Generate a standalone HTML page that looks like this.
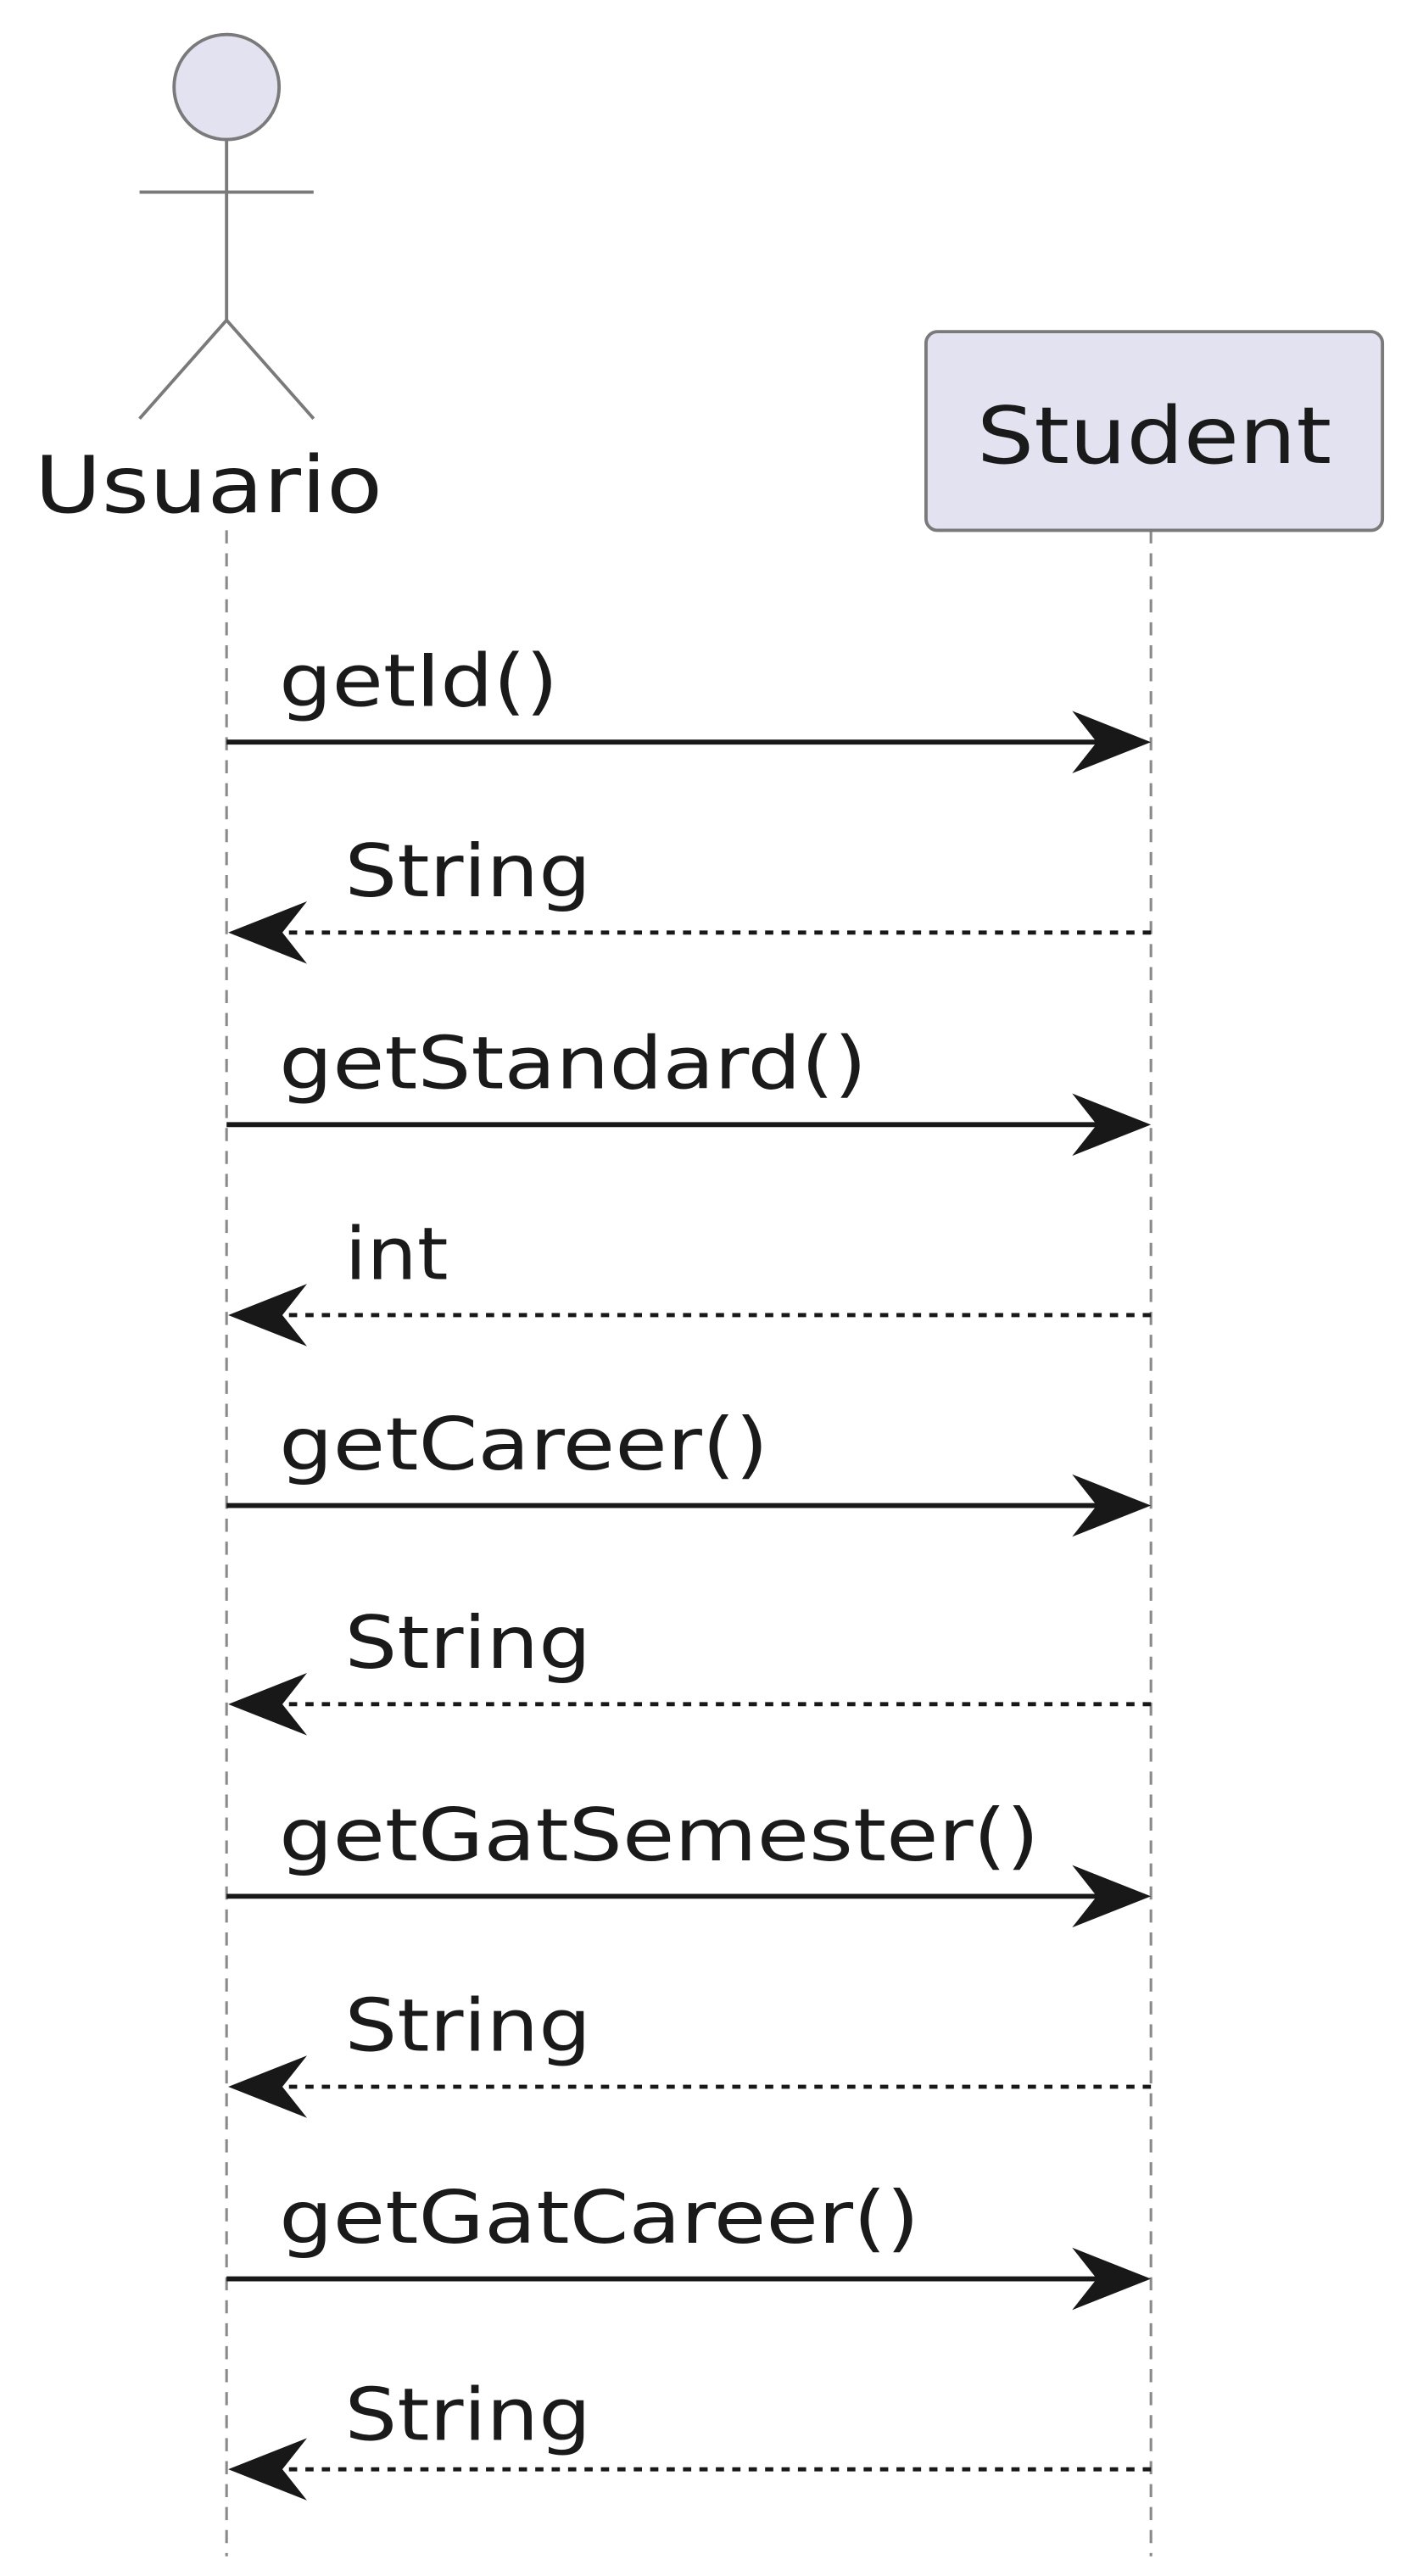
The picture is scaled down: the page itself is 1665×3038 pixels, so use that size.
<!DOCTYPE html>
<html><head><meta charset="utf-8"><style>html,body{margin:0;padding:0;background:#fff}svg{display:block}</style></head>
<body>
<svg width="1665" height="3038" viewBox="0 0 860 1569" preserveAspectRatio="none" xmlns="http://www.w3.org/2000/svg" font-family="'DejaVu Sans','Liberation Sans',sans-serif">
<rect width="860" height="1569" fill="#fff"/>
<g stroke="#8a8a8a" stroke-width="1.6" stroke-dasharray="8,6" fill="none">
<line x1="138" y1="323" x2="138" y2="1557"/>
<line x1="701" y1="323" x2="701" y2="1557"/>
</g>
<circle cx="138" cy="53" r="32" fill="#e2e2f0" stroke="#7a7a7a" stroke-width="2"/>
<g stroke="#7a7a7a" stroke-width="2" fill="none">
<line x1="138" y1="85" x2="138" y2="195"/>
<line x1="85" y1="117" x2="191" y2="117"/>
<polyline points="85,255 138,195 191,255"/>
</g>
<text x="127" y="312" font-size="48" text-anchor="middle" fill="#1a1a1a" textLength="212" lengthAdjust="spacingAndGlyphs">Usuario</text>
<rect x="564" y="202" width="278" height="121" rx="7" fill="#e2e2f0" stroke="#7a7a7a" stroke-width="2"/>
<text x="703" y="282" font-size="48" text-anchor="middle" fill="#1a1a1a" textLength="216" lengthAdjust="spacingAndGlyphs">Student</text>
<g font-size="44" fill="#1a1a1a">
<text x="170" y="430" textLength="170" lengthAdjust="spacingAndGlyphs">getId()</text>
<text x="210" y="546" textLength="150" lengthAdjust="spacingAndGlyphs">String</text>
<text x="170" y="663" textLength="358" lengthAdjust="spacingAndGlyphs">getStandard()</text>
<text x="210" y="779" textLength="63" lengthAdjust="spacingAndGlyphs">int</text>
<text x="170" y="895" textLength="298" lengthAdjust="spacingAndGlyphs">getCareer()</text>
<text x="210" y="1016" textLength="150" lengthAdjust="spacingAndGlyphs">String</text>
<text x="170" y="1133" textLength="463" lengthAdjust="spacingAndGlyphs">getGatSemester()</text>
<text x="210" y="1249" textLength="150" lengthAdjust="spacingAndGlyphs">String</text>
<text x="170" y="1366" textLength="390" lengthAdjust="spacingAndGlyphs">getGatCareer()</text>
<text x="210" y="1486" textLength="150" lengthAdjust="spacingAndGlyphs">String</text>
</g>
<g stroke="#181818" stroke-width="3">
<line x1="138" y1="452" x2="695" y2="452"/>
<line x1="138" y1="685" x2="695" y2="685"/>
<line x1="138" y1="917" x2="695" y2="917"/>
<line x1="138" y1="1155" x2="695" y2="1155"/>
<line x1="138" y1="1388" x2="695" y2="1388"/>
</g>
<g stroke="#181818" stroke-width="2.5" stroke-dasharray="5,5">
<line x1="146" y1="568" x2="701" y2="568"/>
<line x1="146" y1="801" x2="701" y2="801"/>
<line x1="146" y1="1038" x2="701" y2="1038"/>
<line x1="146" y1="1271" x2="701" y2="1271"/>
<line x1="146" y1="1504" x2="701" y2="1504"/>
</g>
<g fill="#181818">
<polygon points="701,452 653,433 668,452 653,471"/>
<polygon points="701,685 653,666 668,685 653,704"/>
<polygon points="701,917 653,898 668,917 653,936"/>
<polygon points="701,1155 653,1136 668,1155 653,1174"/>
<polygon points="701,1388 653,1369 668,1388 653,1407"/>
<polygon points="139,568 187,549 172,568 187,587"/>
<polygon points="139,801 187,782 172,801 187,820"/>
<polygon points="139,1038 187,1019 172,1038 187,1057"/>
<polygon points="139,1271 187,1252 172,1271 187,1290"/>
<polygon points="139,1504 187,1485 172,1504 187,1523"/>
</g>
</svg>
</body></html>
